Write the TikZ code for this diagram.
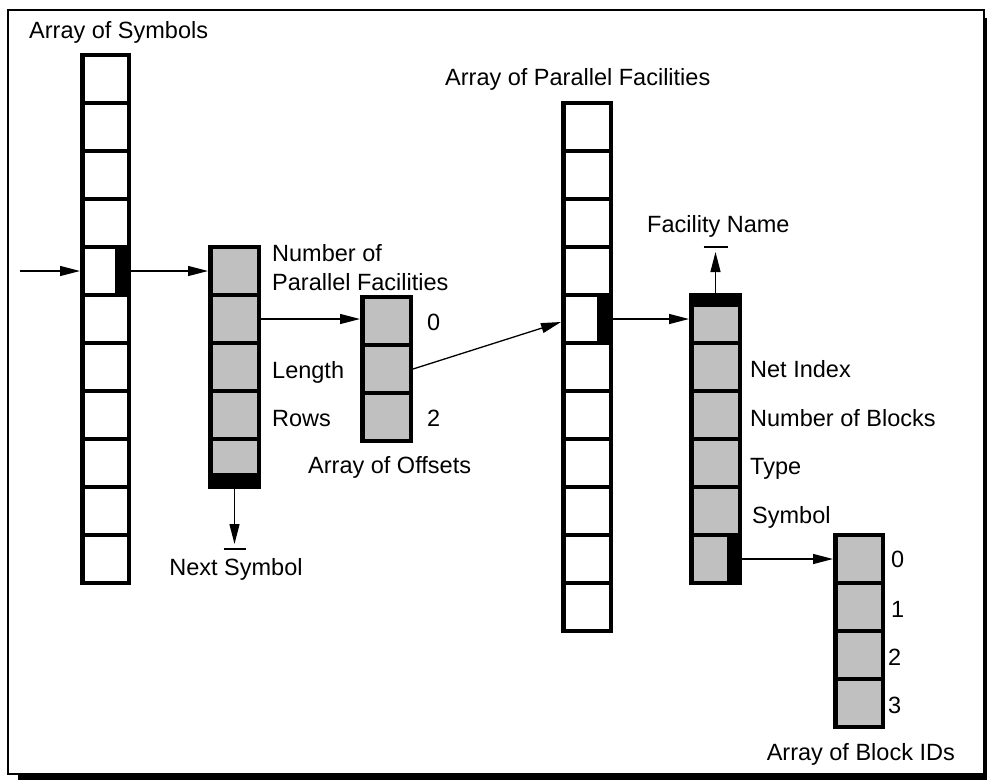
\documentclass[tikz,border=0pt]{standalone}
\usepackage{fontspec}
\setmainfont{Liberation Sans}
\usetikzlibrary{arrows.meta}
\definecolor{cellgray}{HTML}{C0C0C0}
\begin{document}
\begin{tikzpicture}[x=1pt,y=-1pt,
  emptycell/.style={draw=black, line width=4.5pt, fill=white, line join=miter,
    minimum width=#1, minimum height=48pt, inner sep=0pt},
  graycell/.style={emptycell=#1, fill=cellgray},
  ptr/.style={-{Triangle[length=20pt,width=10pt]}, line width=1.3pt},
  stopbar/.style={line width=1.3pt},
  lbl/.style={font=\fontsize{23.5}{28}\selectfont, inner sep=0pt}]

% page and framed border with drop shadow
\useasboundingbox (0,0) rectangle (987,780);
\fill[white] (0,0) rectangle (987,780);
\draw[line width=2pt] (8,10) rectangle (984,774);
\fill (18,775) rectangle (987,780);
\fill (985,18) rectangle (987,780);

% array of symbols
\foreach \i in {0,...,10}
  \node[emptycell=46.5pt] (sym\i) at (105.5,{79+48*\i}) {};
\fill ([xshift=-16pt]sym4.north east) rectangle (sym4.south east);

% symbol record
\foreach \i in {0,...,4}
  \node[graycell=48.5pt] (srec\i) at (234.5,{271+48*\i}) {};
\fill ([yshift=16pt]srec4.south west) rectangle (srec4.south east);

% array of offsets
\foreach \i in {0,...,2}
  \node[graycell=48.5pt] (off\i) at (386.5,{321+48*\i}) {};

% array of parallel facilities
\foreach \i in {0,...,10}
  \node[emptycell=47.5pt] (pf\i) at (587,{127+48*\i}) {};
\fill ([xshift=-16pt]pf4.north east) rectangle (pf4.south east);

% facility record
\foreach \i in {0,...,5}
  \node[graycell=48.5pt] (frec\i) at (715.5,{319+48*\i}) {};
\fill (frec0.north west) rectangle ([yshift=-14pt]frec0.north east);
\fill ([xshift=-15pt]frec5.north east) rectangle (frec5.south east);

% array of block IDs
\foreach \i in {0,...,3}
  \node[graycell=47.5pt] (bid\i) at (859,{559+48*\i}) {};

% pointers
\coordinate (entry) at (20,271);
\coordinate (nextsym) at (234.5,549);
\coordinate (facname) at (715.5,247);
\draw[ptr] (entry) -- (sym4.west);
\draw[ptr] (sym4.east) -- (srec0.west);
\draw[ptr] (srec1.east) -- (off0.west |- srec1.east);
\draw[ptr] (off1.east) -- ([yshift=-3pt]pf4.west);
\draw[ptr] (pf4.east) -- (frec0.west);
\draw[ptr] (frec5.east) -- (bid0.west);
\draw[ptr] (srec4.south) -- ([yshift=5pt]nextsym);
\draw[stopbar] ([xshift=-11pt]nextsym) -- ([xshift=11pt]nextsym);
\draw[ptr] (frec0.north) -- ([yshift=-5pt]facname);
\draw[stopbar] ([xshift=-12pt]facname) -- ([xshift=12pt]facname);

% labels
\node[lbl, anchor=base west] (tsym) at (29,38) {Array of Symbols};
\node[lbl, anchor=base west] (tpf) at (445,85) {Array of Parallel Facilities};
\node[lbl, anchor=base west] (tnum1) at (272,261) {Number of};
\node[lbl, anchor=base west] (tnum2) at (272,290) {Parallel Facilities};
\node[lbl, anchor=base west] (tlen) at (272,378) {Length};
\node[lbl, anchor=base west] (trows) at (272,426) {Rows};
\node[lbl, anchor=base west] (toff0) at (427,330) {0};
\node[lbl, anchor=base west] (toff2) at (427,426) {2};
\node[lbl, anchor=base west] (toff) at (308,473) {Array of Offsets};
\node[lbl, anchor=base] (tnext) at (236,575) {Next Symbol};
\node[lbl, anchor=base west] (tfn) at (647,232) {Facility Name};
\node[lbl, anchor=base west] (tnet) at (750,377) {Net Index};
\node[lbl, anchor=base west] (tnblk) at (750,426) {Number of Blocks};
\node[lbl, anchor=base west] (ttype) at (750,474) {Type};
\node[lbl, anchor=base west] (tsymb) at (752,523) {Symbol};
\node[lbl, anchor=base west] (tb0) at (891,567) {0};
\node[lbl, anchor=base west] (tb1) at (891,617) {1};
\node[lbl, anchor=base west] (tb2) at (888,665) {2};
\node[lbl, anchor=base west] (tb3) at (888,713) {3};
\node[lbl, anchor=base east] (tbid) at (955,760) {Array of Block IDs};
\end{tikzpicture}
\end{document}
